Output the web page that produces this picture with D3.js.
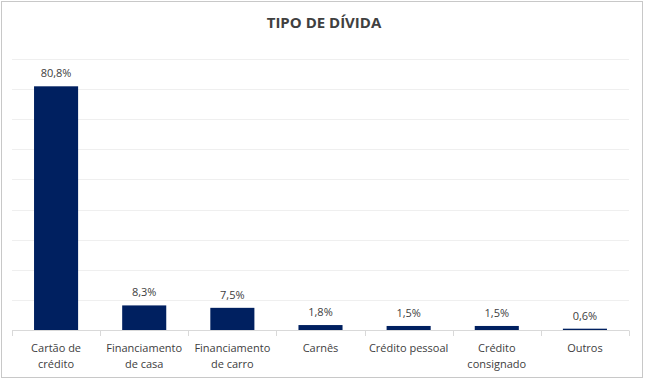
<!DOCTYPE html>
<html><head><meta charset="utf-8">
<script src="https://cdn.jsdelivr.net/npm/d3@7/dist/d3.min.js"></script>
<style>body{margin:0;background:#fff;}svg{display:block;font-family:"Open Sans","Noto Sans",sans-serif;}</style>
</head><body>
<svg id="c" width="649" height="379"></svg>
<script>
const categories = [["Cartão de","crédito"],["Financiamento","de casa"],["Financiamento","de carro"],["Carnês"],["Crédito pessoal"],["Crédito","consignado"],["Outros"]];
const values = [80.8, 8.3, 7.5, 1.8, 1.5, 1.5, 0.6];
const valueLabels = ["80,8%","8,3%","7,5%","1,8%","1,5%","1,5%","0,6%"];
const yTicks = [0,10,20,30,40,50,60,70,80,90];
const title = "TIPO DE DÍVIDA";

const svg = d3.select("#c");
svg.append("rect").attr("x",1.5).attr("y",1.5).attr("width",641).attr("height",376)
  .attr("fill","#fff").attr("stroke","#c8c8c8").attr("stroke-width",1);

const x = d3.scaleBand().domain(d3.range(categories.length)).range([12,629]).paddingInner(0.5).paddingOuter(0.25);
const y = d3.scaleLinear().domain([0,90]).range([330.5,58.5]);

svg.selectAll(".grid").data(yTicks.slice(1)).join("line")
  .attr("x1",12).attr("x2",629).attr("y1",d=>Math.round(y(d))+0.5).attr("y2",d=>Math.round(y(d))+0.5)
  .attr("stroke","#efefef");

svg.selectAll(".bar").data(values).join("rect")
  .attr("x",(d,i)=>x(i)).attr("width",x.bandwidth())
  .attr("y",d=>y(d)).attr("height",d=>y(0)-y(d)).attr("fill","#002060");

svg.selectAll(".vl").data(values).join("text")
  .attr("x",(d,i)=>x(i)+x.bandwidth()/2).attr("y",d=>y(d)-9)
  .attr("text-anchor","middle").attr("font-size",11).attr("fill","#404040")
  .text((d,i)=>valueLabels[i]);

// axis
const step = x.step();
const xa = svg.append("g");
xa.append("line").attr("x1",12).attr("x2",629).attr("y1",330.5).attr("y2",330.5).attr("stroke","#d9d9d9");
xa.selectAll(".tk").data(d3.range(categories.length+1)).join("line")
  .attr("x1",i=>Math.round(12+i*(617/categories.length))+0.5).attr("x2",i=>Math.round(12+i*(617/categories.length))+0.5)
  .attr("y1",330.5).attr("y2",336).attr("stroke","#d9d9d9");

categories.forEach((lines,i)=>{
  const t = svg.append("text").attr("x",x(i)+x.bandwidth()/2).attr("y",352)
    .attr("text-anchor","middle").attr("font-size",11).attr("fill","#404040");
  lines.forEach((l,j)=>t.append("tspan").attr("x",x(i)+x.bandwidth()/2).attr("dy",j?16:0).text(l));
});

svg.append("text").attr("x",324).attr("y",28).attr("text-anchor","middle")
  .attr("font-size",15).attr("font-weight","bold").attr("fill","#404040").text(title);
</script>
</body></html>
